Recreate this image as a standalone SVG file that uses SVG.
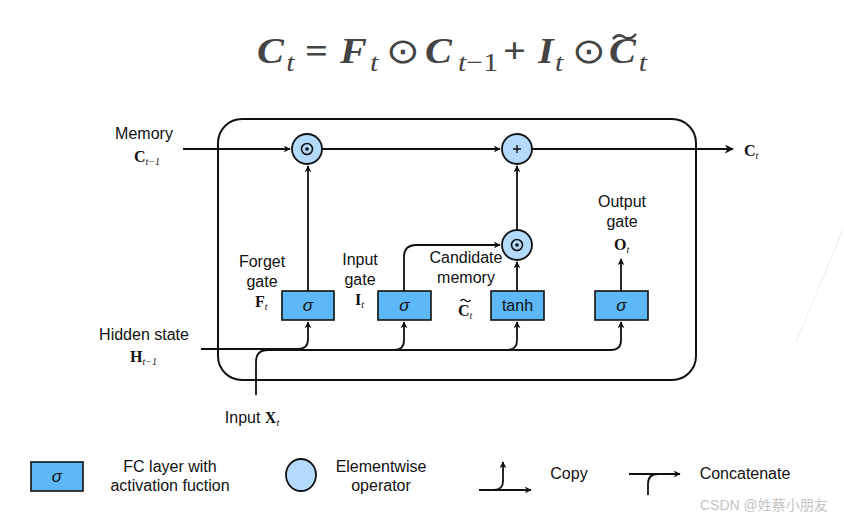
<svg xmlns="http://www.w3.org/2000/svg" width="844" height="520" viewBox="0 0 844 520">
<style>
.lbl{font-family:"Liberation Sans",Arial,sans-serif;font-size:16px;fill:#111;text-anchor:middle}
.sig{font-family:"Liberation Sans",Arial,sans-serif;font-size:17px;font-style:italic;fill:#111;text-anchor:middle}
.mb{font-family:"Liberation Serif","Times New Roman",serif;font-size:16px;font-weight:bold;fill:#111}
.ms{font-family:"Liberation Serif","Times New Roman",serif;font-size:10px;font-style:italic;font-weight:normal}
.eq{font-family:"Liberation Serif","Times New Roman",serif;font-size:35px;font-weight:bold;font-style:italic;fill:#444}
.es{font-size:26px;font-weight:normal}
.up{font-style:normal}
.gate{fill:#5cb8f6;stroke:#111;stroke-width:1.6}
.op{fill:#b4dafb;stroke:#111;stroke-width:1.8}
.ln{fill:none;stroke:#111;stroke-width:1.8}
.wm{font-family:"Liberation Sans","Noto Sans CJK SC",sans-serif;font-size:14px;fill:#c4c4c4}
</style>
<defs>
<marker id="ah" viewBox="0 0 10 10" refX="9" refY="5" markerWidth="7" markerHeight="7" orient="auto" markerUnits="userSpaceOnUse">
<path d="M0,0 L10,5 L0,10 L3,5 z" fill="#111"/>
</marker>
<marker id="ah2" viewBox="0 0 10 10" refX="9" refY="5" markerWidth="9" markerHeight="9" orient="auto" markerUnits="userSpaceOnUse">
<path d="M0,0 L10,5 L0,10 L3,5 z" fill="#111"/>
</marker>
</defs>
<rect width="844" height="520" fill="#fff"/>

<!-- equation -->
<g id="equation" transform="scale(1.15,1)">
<text class="eq"><tspan x="223.5" y="63">C</tspan><tspan class="es" x="249" y="71">t</tspan><tspan class="up" x="265.2" y="63">=</tspan><tspan x="295.7" y="63">F</tspan><tspan class="es" x="321.7" y="71">t</tspan><tspan class="up" font-weight="normal" x="335.7" y="63">⊙</tspan><tspan x="369.6" y="63">C</tspan><tspan class="es" x="398.3" y="71">t</tspan><tspan class="es up">−1</tspan><tspan class="up" x="437.4" y="63">+</tspan><tspan x="467.8" y="63">I</tspan><tspan class="es" x="482.6" y="71">t</tspan><tspan class="up" font-weight="normal" x="497.4" y="63">⊙</tspan><tspan x="529.6" y="63">C</tspan><tspan class="es" x="555.5" y="71">t</tspan></text>
</g>
<path d="M613,39 q5,-6 11,-2 t12,-3" fill="none" stroke="#444" stroke-width="2.6"/>

<!-- cell box -->
<rect id="cell" x="218" y="119" width="478" height="261" rx="24" fill="none" stroke="#111" stroke-width="2"/>

<!-- connectors -->
<g id="connectors">
<path class="ln" d="M183,149 H290" marker-end="url(#ah)"/>
<path class="ln" d="M322,149 H500" marker-end="url(#ah)"/>
<path class="ln" d="M532,149 H733" marker-end="url(#ah2)"/>
<path class="ln" d="M308,291 V166" marker-end="url(#ah)"/>
<path class="ln" d="M404,291 V257 Q404,245 416,245 H500" marker-end="url(#ah)"/>
<path class="ln" d="M517,291 V262" marker-end="url(#ah)"/>
<path class="ln" d="M517,230 V166" marker-end="url(#ah)"/>
<path class="ln" d="M621,291 V259" marker-end="url(#ah)"/>
<path class="ln" d="M201,349 H298 Q308,349 308,339 V322" marker-end="url(#ah)"/>
<path class="ln" d="M256,395 V362 Q256,350 268,350 H394 Q404,350 404,340 V322" marker-end="url(#ah)"/>
<path class="ln" d="M394,350 H507 Q517,350 517,340 V322" marker-end="url(#ah)"/>
<path class="ln" d="M507,350 H611 Q621,350 621,340 V322" marker-end="url(#ah)"/>
</g>

<!-- operators -->
<g id="mulF">
<circle class="op" cx="307" cy="149" r="15"/>
<circle cx="307" cy="149" r="5.5" fill="none" stroke="#111" stroke-width="1.6"/>
<circle cx="307" cy="149" r="1.8" fill="#111"/>
</g>
<g id="plus">
<circle class="op" cx="517" cy="149" r="15"/>
<path d="M513,149 H521 M517,145 V153" stroke="#111" stroke-width="1.4"/>
</g>
<g id="mulI">
<circle class="op" cx="517" cy="245" r="15"/>
<circle cx="517" cy="245" r="5.5" fill="none" stroke="#111" stroke-width="1.6"/>
<circle cx="517" cy="245" r="1.8" fill="#111"/>
</g>

<!-- gates -->
<g id="forget">
<rect class="gate" x="282" y="291" width="52" height="29"/>
<text class="sig" x="308" y="311">σ</text>
</g>
<g id="input">
<rect class="gate" x="378" y="291" width="53" height="29"/>
<text class="sig" x="404.5" y="311">σ</text>
</g>
<g id="candidate">
<rect class="gate" x="491" y="291" width="53" height="29"/>
<text class="lbl" x="517.5" y="311">tanh</text>
</g>
<g id="output">
<rect class="gate" x="595" y="291" width="53" height="29"/>
<text class="sig" x="621.5" y="311">σ</text>
</g>

<!-- labels -->
<g id="labels">
<text class="lbl" x="144" y="139">Memory</text>
<text class="mb" x="134" y="162">C<tspan class="ms" dy="3">t</tspan><tspan class="ms" font-style="normal">−1</tspan></text>
<text class="mb" x="744" y="156">C<tspan class="ms" dy="3">t</tspan></text>
<text class="lbl" x="262" y="267">Forget</text>
<text class="lbl" x="262" y="287">gate</text>
<text class="mb" x="255" y="307">F<tspan class="ms" dy="3">t</tspan></text>
<text class="lbl" x="360" y="265">Input</text>
<text class="lbl" x="360" y="285">gate</text>
<text class="mb" x="355" y="305">I<tspan class="ms" dy="3">t</tspan></text>
<text class="lbl" x="466" y="263">Candidate</text>
<text class="lbl" x="466" y="283">memory</text>
<text class="mb" x="458" y="316">C<tspan class="ms" dy="3">t</tspan></text>
<path d="M460.5,301 q2.5,-3 5,-0.5 t5,-0.5" fill="none" stroke="#111" stroke-width="1.2"/>
<text class="lbl" x="622" y="207">Output</text>
<text class="lbl" x="622" y="227">gate</text>
<text class="mb" x="614" y="250">O<tspan class="ms" dy="3">t</tspan></text>
<text class="lbl" x="144" y="340">Hidden state</text>
<text class="mb" x="130" y="362">H<tspan class="ms" dy="3">t</tspan><tspan class="ms" font-style="normal">−1</tspan></text>
<text class="lbl" x="252" y="423">Input <tspan font-family="Liberation Serif,serif" font-weight="bold">X</tspan><tspan font-family="Liberation Serif,serif" font-style="italic" font-size="10" dy="3">t</tspan></text>
</g>

<!-- legend -->
<g id="legend">
<rect class="gate" x="31" y="462" width="52" height="29"/>
<text class="sig" x="57" y="482">σ</text>
<text class="lbl" x="170" y="472">FC layer with</text>
<text class="lbl" x="170" y="491">activation fuction</text>
<ellipse class="op" cx="301" cy="475" rx="15" ry="16"/>
<text class="lbl" x="381" y="472">Elementwise</text>
<text class="lbl" x="381" y="491">operator</text>
<path class="ln" d="M479,490 H531" marker-end="url(#ah)"/>
<path class="ln" d="M494,490 Q503,490 503,481 V462" marker-end="url(#ah)"/>
<text class="lbl" x="569" y="479">Copy</text>
<path class="ln" d="M629,474 H680" marker-end="url(#ah)"/>
<path class="ln" d="M648,495 V484 Q648,474 658,474"/>
<text class="lbl" x="745" y="479">Concatenate</text>
</g>

<!-- watermark -->
<line x1="843" y1="230" x2="796" y2="342" stroke="#ececec" stroke-width="1"/>
<text class="wm" x="700" y="510">CSDN @姓蔡小朋友</text>
</svg>
